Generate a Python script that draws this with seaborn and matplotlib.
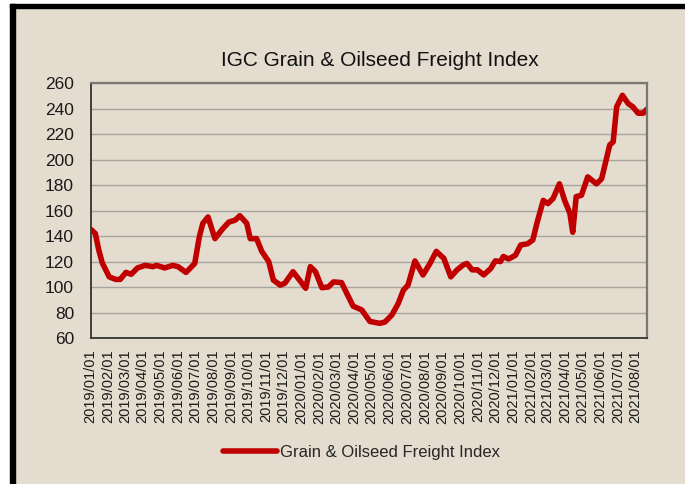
###################
# IGC Grain & Oilseed Freight Index, Jan 2019 - Aug 2021
###################

import pandas as pd
import numpy as np
import matplotlib
matplotlib.use("Agg")
import matplotlib.pyplot as plt
import matplotlib.dates as mdates
from matplotlib.patches import Rectangle
import seaborn as sns

# values
dates = [
    "2019-01-02", "2019-01-09", "2019-01-15", "2019-01-21", "2019-02-02", "2019-02-13",
    "2019-02-21", "2019-03-03", "2019-03-12", "2019-03-23", "2019-04-05", "2019-04-19",
    "2019-04-25", "2019-05-09", "2019-05-23", "2019-06-01", "2019-06-15", "2019-06-30",
    "2019-07-08", "2019-07-14", "2019-07-23", "2019-08-04", "2019-08-16", "2019-08-28",
    "2019-09-08", "2019-09-16", "2019-09-28", "2019-10-04", "2019-10-15", "2019-10-24",
    "2019-11-05", "2019-11-13", "2019-11-25", "2019-12-03", "2019-12-17", "2019-12-30",
    "2020-01-08", "2020-01-16", "2020-01-25", "2020-02-05", "2020-02-16", "2020-02-25",
    "2020-03-10", "2020-03-18", "2020-03-30", "2020-04-14", "2020-04-28", "2020-05-15",
    "2020-05-24", "2020-06-05", "2020-06-16", "2020-06-25", "2020-07-03", "2020-07-15",
    "2020-07-29", "2020-08-10", "2020-08-21", "2020-09-03", "2020-09-15", "2020-09-26",
    "2020-10-07", "2020-10-13", "2020-10-22", "2020-10-31", "2020-11-11", "2020-11-23",
    "2020-12-01", "2020-12-10", "2020-12-15", "2020-12-24", "2021-01-05", "2021-01-14",
    "2021-01-26", "2021-02-04", "2021-02-11", "2021-02-22", "2021-03-02", "2021-03-11",
    "2021-03-22", "2021-03-31", "2021-04-09", "2021-04-14", "2021-04-20", "2021-04-29",
    "2021-05-10", "2021-05-25", "2021-06-03", "2021-06-12", "2021-06-17", "2021-06-23",
    "2021-06-29", "2021-07-09", "2021-07-19", "2021-07-27", "2021-08-05", "2021-08-14",
    "2021-08-20",
]
index_values = [
    145, 142, 129, 119, 108, 106,
    106, 111.5, 110, 115, 117, 116,
    117, 115, 117, 116, 111.5, 118.5,
    139.5, 150, 155, 138, 145, 151,
    152.5, 156, 150, 138, 138, 128,
    120, 105.5, 101.5, 103, 112, 104.5,
    99, 116, 112, 99.5, 100, 104,
    103.5, 96, 85, 82, 73, 71.5,
    72.5, 78, 87, 97.5, 101.5, 120.5,
    109.5, 118.5, 128, 122.5, 108, 113.5,
    117.5, 118.5, 113.5, 113.5, 109.5, 114.5,
    120.5, 120, 124, 122, 125, 133,
    134, 137, 150, 168, 165.5, 169.5,
    181, 168, 158, 143, 171, 172,
    186.5, 181, 185, 202, 211.5, 214,
    241.5, 250.5, 244, 241.5, 236.5, 236.5,
    239.5,
]
y_ticks = list(range(60, 261, 20))
series_name = "Grain & Oilseed Freight Index"
chart_title = "IGC Grain & Oilseed Freight Index"

df = pd.DataFrame({"date": pd.to_datetime(dates), "value": index_values})

bg = "#e3dccf"
sns.set_style("white")
plt.rcParams["font.family"] = ["Liberation Sans", "DejaVu Sans"]

fig = plt.figure(figsize=(6.85, 4.84), dpi=100, facecolor=bg)
ax = fig.add_axes([0.1324, 0.3017, 0.8117, 0.5263])
ax.set_facecolor(bg)

sns.lineplot(data=df, x="date", y="value", ax=ax, color="#c00000",
             linewidth=4, label=series_name, solid_joinstyle="round",
             solid_capstyle="round")

# axes and grid
ax.set_ylim(60, 260)
ax.set_yticks(y_ticks)
ax.set_xlim(pd.Timestamp("2019-01-01"), pd.Timestamp("2021-08-20"))
ax.xaxis.set_major_locator(mdates.MonthLocator())
ax.xaxis.set_major_formatter(mdates.DateFormatter("%Y/%m/%d"))
ax.grid(axis="y", color="#a9a49e", linewidth=1)
ax.set_axisbelow(True)
ax.set_xlabel("")
ax.set_ylabel("")

for side in ["top", "right"]:
    ax.spines[side].set_color("#7a7774")
    ax.spines[side].set_linewidth(1.6)
for side in ["left", "bottom"]:
    ax.spines[side].set_color("#333333")
    ax.spines[side].set_linewidth(1.3)

ax.tick_params(axis="y", direction="out", length=5, width=1, color="#333333",
               pad=7, labelsize=12.5, labelcolor="#1a1a1a")
ax.tick_params(axis="x", direction="out", length=4.5, width=1, color="#333333",
               pad=4, labelsize=10.5, labelcolor="#1a1a1a", rotation=90)

# title and legend
fig.text(0.555, 0.876, chart_title, ha="center", va="center", fontsize=15,
         color="#111111")
ax.legend(loc="center", bbox_to_anchor=(0.528, 0.066),
          bbox_transform=fig.transFigure, frameon=False, fontsize=12,
          handlelength=3.2, handletextpad=0.2)

# frame around the picture: white margins + black strips top / left
fig.patches.append(Rectangle((0, 0), 10 / 685, 1, transform=fig.transFigure,
                             color="white", zorder=-1))
fig.patches.append(Rectangle((0, 1 - 4 / 484), 1, 4 / 484, transform=fig.transFigure,
                             color="white", zorder=-1))
fig.patches.append(Rectangle((10 / 685, 0), 5 / 685, 1 - 4 / 484,
                             transform=fig.transFigure, color="black", zorder=-1))
fig.patches.append(Rectangle((10 / 685, 1 - 8 / 484), 1, 4 / 484,
                             transform=fig.transFigure, color="black", zorder=-1))

plt.savefig("out.png", dpi=100, facecolor=bg)
